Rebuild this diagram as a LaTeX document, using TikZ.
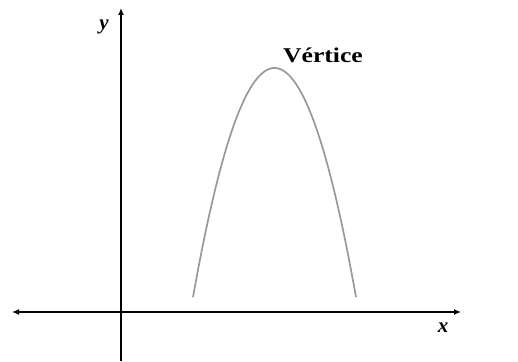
\documentclass[tikz,border=0pt]{standalone}
\usepackage{fontspec}
\setmainfont{Liberation Serif}
\usetikzlibrary{arrows.meta}
\begin{document}
\begin{tikzpicture}[x=1pt,y=-1pt,
  axis/.style={line width=2.4pt,black},
  curve/.style={line width=1.7pt,gray!80},
  lbl/.style={inner sep=0pt,font=\fontsize{21}{21}\selectfont\itshape\bfseries}]
\useasboundingbox (0,0) rectangle (518,361);
\coordinate (xl) at (12,312);
\coordinate (xr) at (461,312);
\coordinate (yb) at (121,361);
\coordinate (yt) at (121,8);
\draw[axis,{Latex[length=7pt,width=6pt]}-{Latex[length=7pt,width=6pt]}] (xl) -- (xr);
\draw[axis,-{Latex[length=7pt,width=6pt]}] (yb) -- (yt);
\draw[curve,domain=193:356,samples=80,smooth] plot (\x,{68+0.0345*(\x-274.5)*(\x-274.5)});
\coordinate (vx) at (274.5,68);
\node[lbl] (ylabel) at (104,27) {y};
\node[lbl] (xlabel) at (443,328) {x};
\node[inner sep=0pt,anchor=base west,font=\fontsize{21}{21}\selectfont\bfseries] (vlabel) at (283,63) {\scalebox{1.22}[1]{Vértice}};
\end{tikzpicture}
\end{document}
